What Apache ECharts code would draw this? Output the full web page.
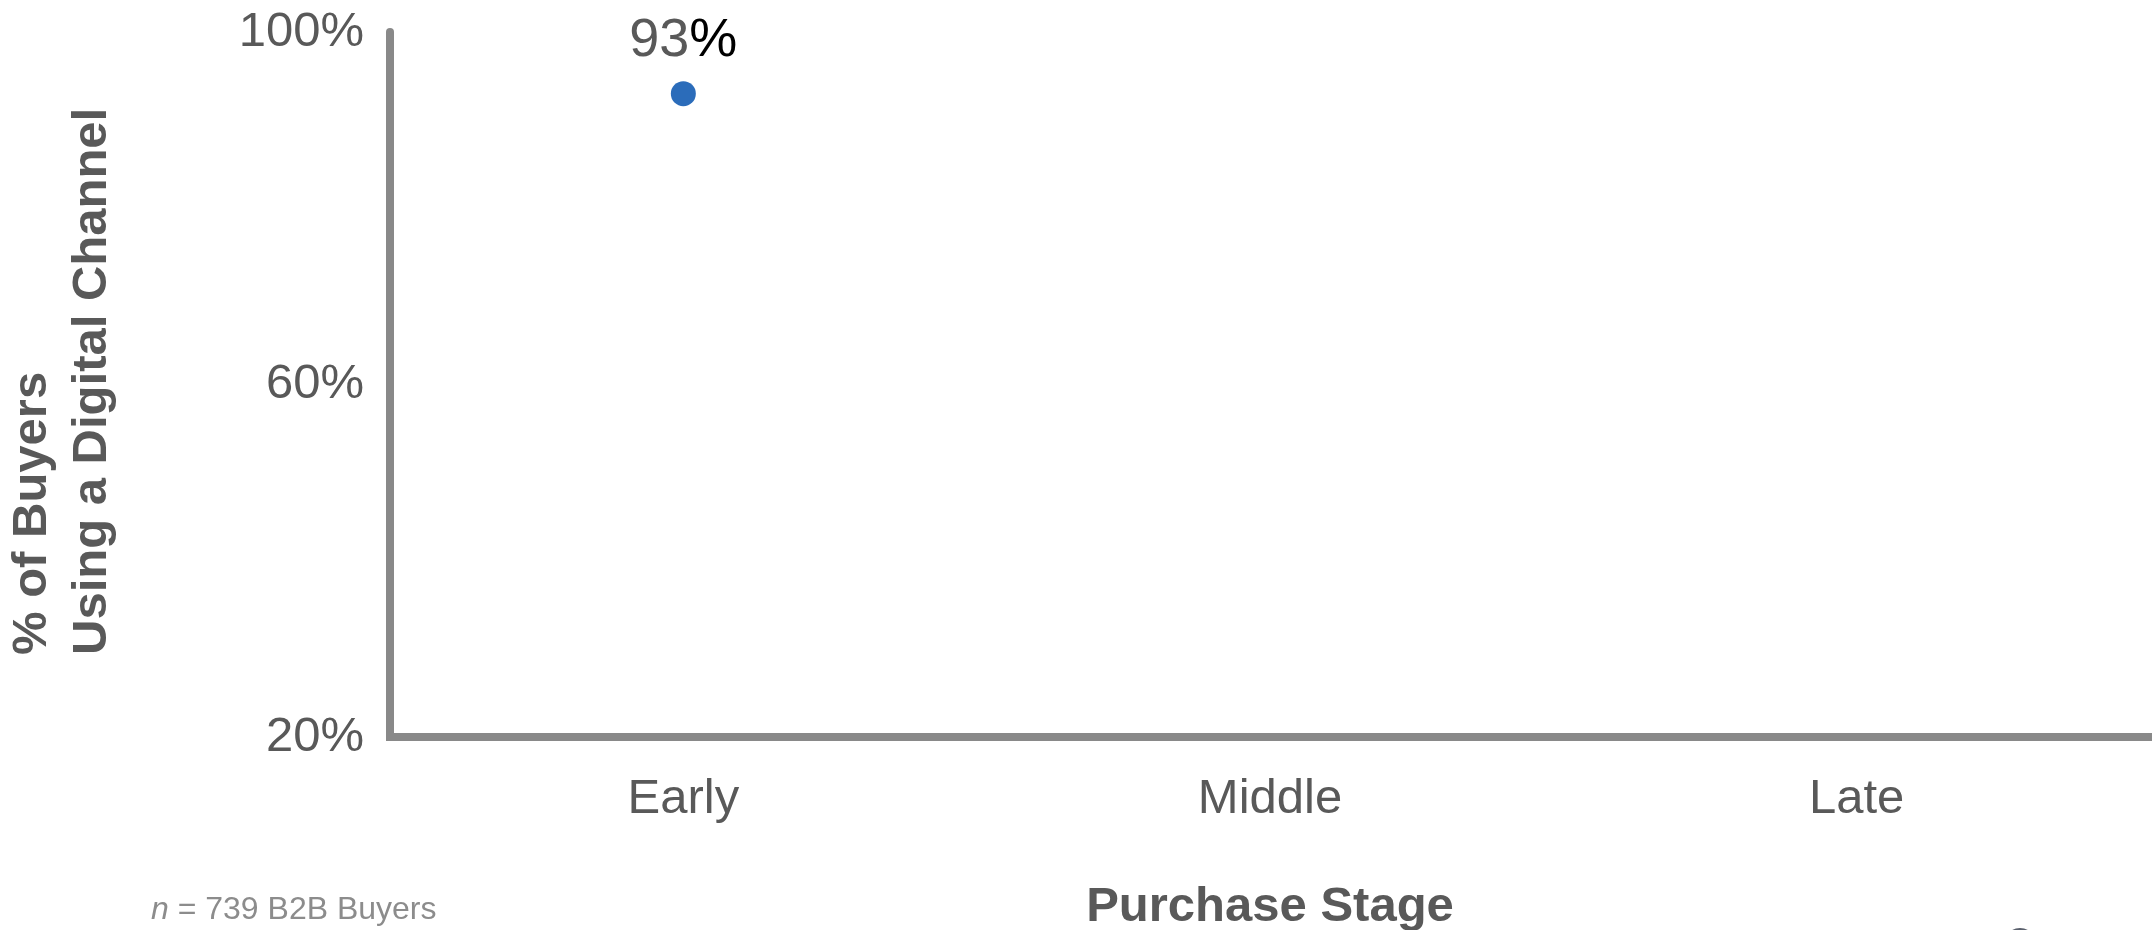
<!DOCTYPE html>
<html>
<head>
<meta charset="utf-8">
<title>Digital channel use by purchase stage</title>
<script src="https://cdn.jsdelivr.net/npm/echarts@6/dist/echarts.min.js"></script>
<style>
  html, body { margin: 0; padding: 0; background: #ffffff; }
  #chart { width: 2152px; height: 930px; }
</style>
</head>
<body>
<div id="chart"></div>
<script>
// Purchase stages along the x axis
const stages = ['Early', 'Middle', 'Late'];
// Share of buyers using a digital channel at each stage (only the early stage is shown)
const digitalShare = [93, null, null];
// Percentage axis ticks
const yMin = 20;
const yMax = 100;
const yStep = 40;

const FONT = '"Liberation Sans", Arial, Helvetica, sans-serif';
const TEXT_GRAY = '#595959';
const AXIS_GRAY = '#898989';

const chart = echarts.init(document.getElementById('chart'), null, { renderer: 'canvas' });

chart.setOption({
  backgroundColor: '#ffffff',
  animation: false,
  title: {
    text: '{i|n} = 739 B2B Buyers',
    left: 146,
    top: 889,
    textStyle: {
      fontFamily: FONT,
      fontSize: 32,
      fontWeight: 'normal',
      color: '#8c8c8c',
      rich: {
        i: { fontFamily: FONT, fontSize: 32, fontStyle: 'italic', color: '#8c8c8c' }
      }
    }
  },
  grid: { left: 390, right: 2, top: 32, bottom: 193, outerBoundsMode: 'none', containLabel: false },
  xAxis: {
    type: 'category',
    data: stages,
    boundaryGap: true,
    name: 'Purchase Stage',
    nameLocation: 'middle',
    nameGap: 146,
    nameTextStyle: { fontFamily: FONT, fontSize: 49, fontWeight: 'bold', color: TEXT_GRAY },
    axisLine: { show: true, lineStyle: { color: AXIS_GRAY, width: 8, cap: 'square' } },
    axisTick: { show: false },
    splitLine: { show: false },
    axisLabel: { fontFamily: FONT, fontSize: 49, color: TEXT_GRAY, margin: 38 }
  },
  yAxis: {
    type: 'value',
    min: yMin,
    max: yMax,
    interval: yStep,
    axisLine: { show: true, lineStyle: { color: AXIS_GRAY, width: 8 } },
    axisTick: { show: false },
    splitLine: { show: false },
    axisLabel: {
      fontFamily: FONT,
      fontSize: 49,
      color: TEXT_GRAY,
      margin: 26,
      formatter: '{value}%'
    }
  },
  series: [{
    type: 'scatter',
    data: digitalShare.map(v => (v == null ? '-' : v)),
    symbol: 'circle',
    symbolSize: 25,
    itemStyle: { color: '#2b6cba', opacity: 1 },
    label: {
      show: true,
      position: 'top',
      distance: 13,
      formatter: p => '{n|' + p.value + '}{p|%}',
      rich: {
        n: { fontFamily: FONT, fontSize: 54, color: TEXT_GRAY },
        p: { fontFamily: FONT, fontSize: 54, color: '#000000' }
      }
    }
  }],
  graphic: [
    {
      type: 'text',
      x: 32,
      y: 655,
      rotation: Math.PI / 2,
      style: {
        text: '% of Buyers',
        font: 'bold 49px ' + FONT,
        fill: TEXT_GRAY,
        align: 'left',
        verticalAlign: 'middle'
      }
    },
    {
      type: 'text',
      x: 92,
      y: 655,
      rotation: Math.PI / 2,
      style: {
        text: 'Using a Digital Channel',
        font: 'bold 49px ' + FONT,
        fill: TEXT_GRAY,
        align: 'left',
        verticalAlign: 'middle'
      }
    },
    {
      // logo mark peeking in at the bottom edge
      type: 'circle',
      shape: { cx: 2020, cy: 944, r: 16 },
      style: { fill: '#5a606c' }
    }
  ]
});
</script>
</body>
</html>
